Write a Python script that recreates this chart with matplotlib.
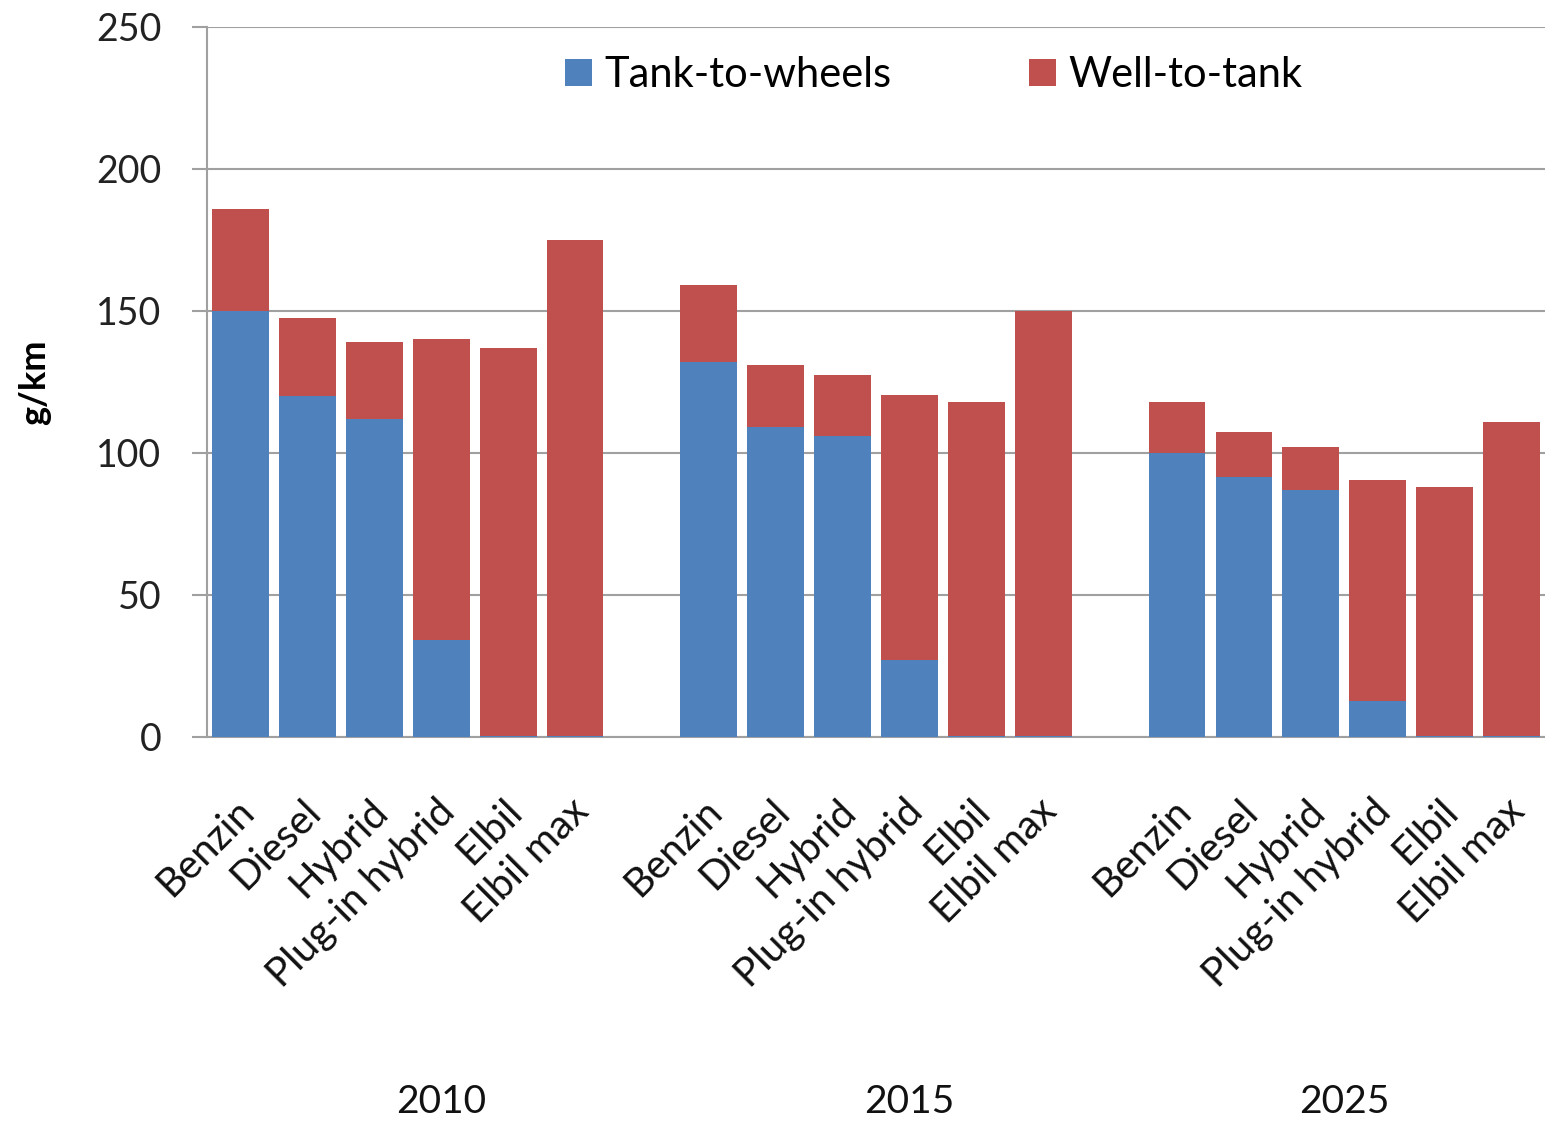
"""
Stacked bars: CO2 emissions per km, tank-to-wheels vs well-to-tank.
"""

import numpy as np
import matplotlib.pyplot as plt
from matplotlib.transforms import ScaledTranslation

plt.rcParams['font.family'] = ['Lato', 'DejaVu Sans']

# Data
years = ['2010', '2015', '2025']
cars = ['Benzin', 'Diesel', 'Hybrid', 'Plug-in hybrid', 'Elbil', 'Elbil max']

tank_to_wheels = [
    [150, 120, 112, 34, 0.5, 0.5],
    [132, 109, 106, 27, 0.5, 0.5],
    [100, 91.5, 87, 12.5, 0.5, 0.5],
]
totals = [
    [186, 147.5, 139, 140, 137, 175],
    [159, 131, 127.5, 120.5, 118, 150],
    [118, 107.5, 102, 90.5, 88, 111],
]

blue = '#4F81BD'
red = '#C0504D'
grey = '#A0A0A0'

fig = plt.figure(figsize=(15.45, 11.21), dpi=100)
ax = fig.add_axes([0.134, 0.3426, 0.866, 0.6334])

gap = 1  # one empty slot between year groups
xs, ttw, wtt, labels = [], [], [], []
for g in range(len(years)):
    for i, car in enumerate(cars):
        xs.append(g * (len(cars) + gap) + i)
        ttw.append(tank_to_wheels[g][i])
        wtt.append(totals[g][i] - tank_to_wheels[g][i])
        labels.append(car)
xs = np.array(xs)

ax.bar(xs, ttw, width=0.85, color=blue, label='Tank-to-wheels', zorder=3)
ax.bar(xs, wtt, width=0.85, bottom=ttw, color=red, label='Well-to-tank', zorder=3)

ax.set_xlim(-0.5, xs[-1] + 0.5)
ax.set_ylim(0, 250)
ax.set_yticks(np.arange(0, 251, 50))
ax.yaxis.grid(True, color=grey, linewidth=1.5, zorder=0)

for s in ['top', 'right']:
    ax.spines[s].set_visible(False)
for s in ['left', 'bottom']:
    ax.spines[s].set_color(grey)
    ax.spines[s].set_linewidth(1.5)

ax.tick_params(axis='y', length=11, width=1.5, color=grey, pad=22,
               labelsize=27, labelcolor='#222222')
ax.tick_params(axis='x', length=0, pad=40)

ax.set_xticks(xs)
ax.set_xticklabels(labels, rotation=45, ha='right', rotation_mode='anchor',
                   fontsize=29, color='#111111')
shift = ScaledTranslation(-4 / 72, 0, fig.dpi_scale_trans)
for lab in ax.get_xticklabels():
    lab.set_transform(lab.get_transform() + shift)

# year labels, centered over each group including its trailing gap
for g, yr in enumerate(years):
    start = g * (len(cars) + gap)
    end = start + len(cars) - 1 + (gap if g < len(years) - 1 else 0)
    ax.text((start + end) / 2, -0.514, yr, transform=ax.get_xaxis_transform(),
            ha='center', va='center', fontsize=28, color='#111111')

ax.set_ylabel('g/km', fontsize=26, fontweight='bold', labelpad=32)

ax.legend(loc='center', bbox_to_anchor=(0.543, 0.932), ncol=2, frameon=False,
          fontsize=30, handlelength=0.65, handleheight=0.65, handletextpad=0.3,
          columnspacing=3.3)

fig.savefig('out.png', dpi=100)
